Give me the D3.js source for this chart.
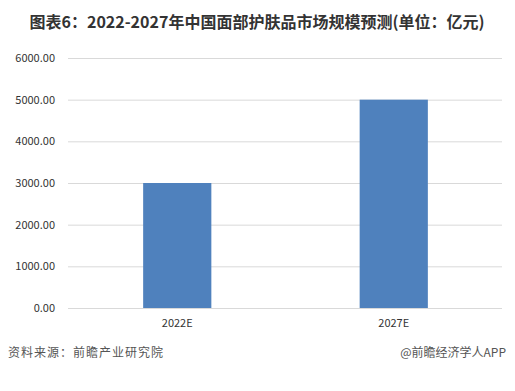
<!DOCTYPE html>
<html>
<head>
<meta charset="utf-8">
<script src="https://cdn.jsdelivr.net/npm/d3@7"></script>
<style>
  body { margin: 0; background: #fff; }
  svg { display: block; }
</style>
</head>
<body>
<svg id="chart" width="515" height="391"></svg>
<script>
const categories = ['2022E', '2027E'];
const values = [3000, 5000];
const yTicks = [0, 1000, 2000, 3000, 4000, 5000, 6000];
const titleText = '图表6：2022-2027年中国面部护肤品市场规模预测(单位：亿元)';
const sourceText = '资料来源：前瞻产业研究院';
const brandText = '@前瞻经济学人APP';

const svg = d3.select('#chart');
const font = '"Microsoft YaHei", "Noto Sans CJK SC", "DejaVu Sans", sans-serif';

const x = d3.scaleBand().domain(categories).range([69, 502]).paddingInner(0.685).paddingOuter(0.3425);
const y = d3.scaleLinear().domain([0, 6000]).range([308, 58]);

// gridlines
svg.append('g')
  .selectAll('line')
  .data(yTicks)
  .enter().append('line')
  .attr('x1', 68)
  .attr('x2', 502)
  .attr('y1', d => y(d) + 0.5)
  .attr('y2', d => y(d) + 0.5)
  .attr('stroke', '#d9d9d9')
  .attr('stroke-width', 1);

// y labels
svg.append('g')
  .selectAll('text')
  .data(yTicks)
  .enter().append('text')
  .attr('x', 55)
  .attr('y', d => y(d))
  .attr('dy', '0.35em')
  .attr('text-anchor', 'end')
  .attr('font-family', font)
  .attr('font-size', 11)
  .attr('fill', '#333')
  .text(d => d3.format('.2f')(d));

// bars
svg.append('g')
  .selectAll('rect')
  .data(values)
  .enter().append('rect')
  .attr('x', (d, i) => x(categories[i]))
  .attr('width', x.bandwidth())
  .attr('y', d => y(d))
  .attr('height', d => y(0) - y(d))
  .attr('fill', '#4f81bd');

// x labels
svg.append('g')
  .selectAll('text')
  .data(categories)
  .enter().append('text')
  .attr('x', d => x(d) + x.bandwidth() / 2)
  .attr('y', 323)
  .attr('dy', '0.35em')
  .attr('text-anchor', 'middle')
  .attr('font-family', font)
  .attr('font-size', 11)
  .attr('fill', '#333')
  .text(d => d);

// title
svg.append('text')
  .attr('x', 257)
  .attr('y', 22)
  .attr('dy', '0.35em')
  .attr('text-anchor', 'middle')
  .attr('font-family', font)
  .attr('font-size', 16)
  .attr('font-weight', 'bold')
  .attr('fill', '#333')
  .text(titleText);

// footer
svg.append('text')
  .attr('x', 8)
  .attr('y', 353)
  .attr('dy', '0.35em')
  .attr('font-family', font)
  .attr('font-size', 12)
  .attr('letter-spacing', 1)
  .attr('fill', '#555')
  .text(sourceText);

svg.append('text')
  .attr('x', 506)
  .attr('y', 353)
  .attr('dy', '0.35em')
  .attr('text-anchor', 'end')
  .attr('font-family', font)
  .attr('font-size', 12)
  .attr('fill', '#555')
  .text(brandText);
</script>
</body>
</html>
